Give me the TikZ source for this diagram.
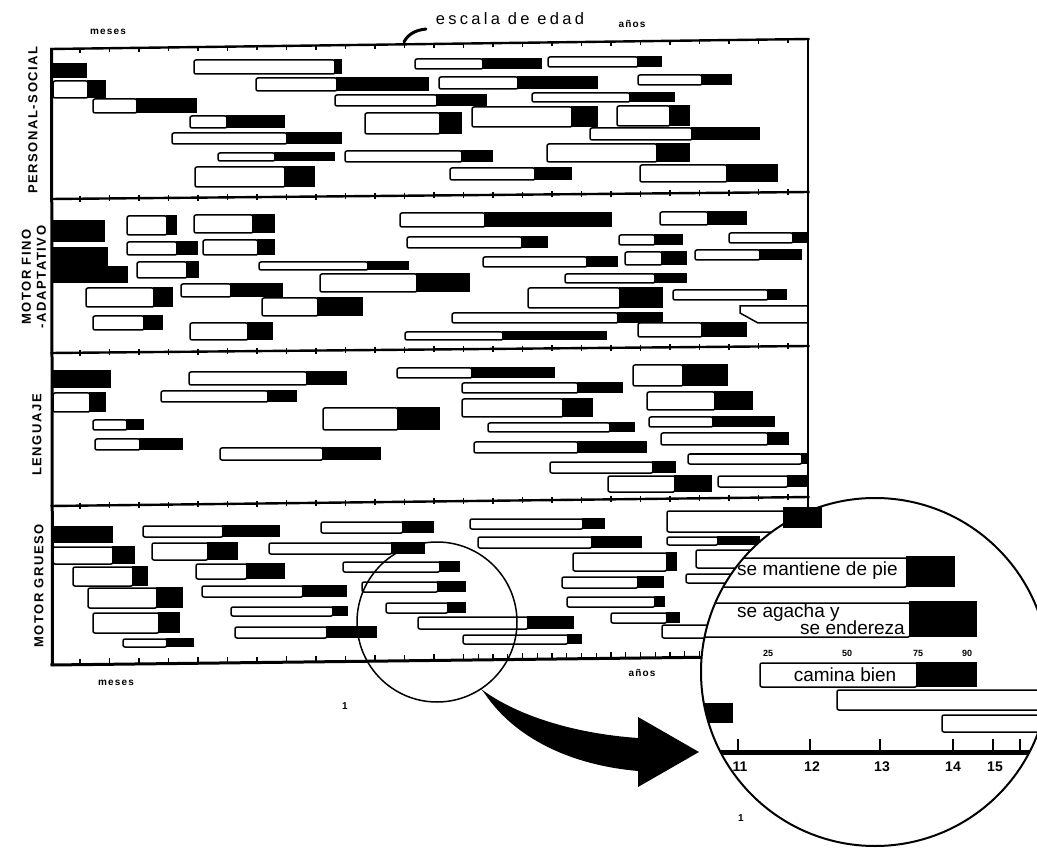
\documentclass[tikz,border=0pt]{standalone}
\usepackage{fontspec}
\setmainfont{Liberation Sans}
\newfontfamily\spaced{Liberation Sans}[LetterSpace=12]
\newfontfamily\wide{Liberation Sans}[LetterSpace=20]
\newcommand\chartline[4]{%
  \draw[frame] (50.5,#1) -- (809.5,#2);
  \foreach \k in {0,...,24}{
    \pgfmathsetmacro\xx{80+29.5*\k}
    \pgfmathsetmacro\yy{#1+(#2-#1)*(\xx-52)/756}
    \draw[tk] (\xx,\yy+#3) -- (\xx,\yy+#4);
  }}
\begin{document}
\begin{tikzpicture}[x=1pt,y=-1pt,
  frame/.style={line width=2.4pt},
  tk/.style={line width=1.2pt},
  wbar/.style={fill=white,draw=black,line width=1.5pt,rounded corners=2pt},
  lbl/.style={inner sep=0pt,font=\spaced\bfseries\fontsize{13}{15}\selectfont},
  sm/.style={inner sep=0pt,font=\spaced\bfseries\fontsize{10}{10}\selectfont},
  tiny/.style={inner sep=0pt,font=\bfseries\fontsize{9}{9}\selectfont},
  circ/.style={inner sep=0pt,font=\fontsize{19}{20}\selectfont},
  num/.style={inner sep=0pt,font=\bfseries\fontsize{14}{14}\selectfont}]
\useasboundingbox (0,0) rectangle (1037,850);

% ---------- frame ----------
\draw[line width=3pt] (51.5,48) -- (52.5,666);
\draw[frame] (808,38) -- (808,660);
\chartline{49}{39}{0}{4}
\chartline{199}{192}{-3}{3}
\chartline{353}{346}{-3}{3}
\chartline{506}{497}{-3}{3}
\draw[line width=3pt] (50.5,665) -- (809.5,656);
\foreach \k in {0,...,13}{
  \pgfmathsetmacro\xx{80+29.5*\k}
  \pgfmathsetmacro\yy{665-9*(\xx-52)/756}
  \draw[tk] (\xx,\yy) -- (\xx,\yy-6);}
\foreach \k in {1,...,23}{
  \pgfmathsetmacro\xx{463.5+14.75*\k}
  \pgfmathsetmacro\yy{665-9*(\xx-52)/756}
  \draw[tk] (\xx,\yy) -- (\xx,\yy-6);}

% ---------- black-only bars ----------
\foreach \a/\b/\u/\v in {52/87/63/78, 52/105/220/242, 52/108/247/283, 108/128/266/283,
  52/111/370/388, 52/113/526/543}{
  \fill (\a,\u) rectangle (\b,\v);}

% ---------- bars: white x1-x2, black x2-x3, y1-y2 ----------
\foreach \a/\b/\c/\u/\v in {
 % personal-social
 53/88/106/81/98, 93/137/197/99/113, 194/335/342/60/74, 256/337/429/78/91,
 415/483/542/59/69, 439/518/598/77/89, 335/437/487/95/106, 190/227/285/116/128,
 172/287/342/133/144, 365/440/462/113/134, 218/275/335/153/161, 345/462/493/151/162,
 195/285/315/167/187, 450/535/572/168/180, 548/638/662/57/67, 638/702/732/75/85,
 532/630/675/93/102, 472/572/598/107/127, 617/670/690/106/126, 590/692/760/128/140,
 547/657/690/144/162, 640/727/778/165/182,
 % motor fino-adaptativo
 127/167/177/216/235, 194/253/275/215/233, 127/177/198/242/255, 203/258/275/240/255,
 137/187/199/262/278, 259/368/409/262/270, 86/154/173/288/307, 181/231/283/284/297,
 320/417/470/274/292, 262/318/363/298/316, 93/144/163/316/330, 190/248/273/323/340,
 400/485/612/213/227, 407/522/548/237/248, 483/587/618/257/267, 565/655/687/274/283,
 528/620/663/288/308, 452/618/663/313/323, 405/503/607/332/340, 660/708/747/212/225,
 619/655/683/235/245, 729/793/808/233/243, 625/662/687/252/265, 695/760/802/250/260,
 673/768/787/290/300, 638/702/747/323/337,
 % lenguaje
 53/90/106/393/412, 93/127/144/420/430, 95/140/183/439/450, 189/307/347/372/385,
 161/268/297/391/402, 220/323/381/448/460, 323/398/440/408/430, 397/472/555/368/378,
 462/578/623/383/393, 462/563/593/399/417, 488/610/635/423/432, 474/578/647/442/453,
 550/653/676/462/473, 608/675/712/476/492, 633/683/728/365/386, 647/715/753/392/410,
 649/713/775/417/427, 661/768/789/433/445, 688/802/808/454/464, 718/788/808/476/487,
 % motor grueso
 53/113/135/547/564, 73/133/148/567/586, 88/157/183/588/608, 93/159/180/613/633,
 123/167/194/639/647, 143/223/280/526/537, 152/208/238/543/560, 196/247/285/564/579,
 202/303/347/586/597, 231/333/348/607/616, 235/327/377/627/638, 321/403/434/522/533,
 269/392/425/543/554, 343/440/460/562/572, 362/438/466/582/592, 386/448/466/603/613,
 418/528/574/617/629, 463/568/582/635/644, 470/583/605/519/529, 478/592/642/537/548,
 573/667/677/553/571, 562/638/664/577/588, 567/655/665/597/607, 611/667/680/613/623,
 662/740/740/625/638, 667/785/808/511/532, 667/718/760/537/545, 696/760/760/550/568,
 686/760/760/574/583}{
  \draw[wbar] (\a,\u) rectangle (\b,\v);
  \fill (\b-0.8,\u-0.8) rectangle (\c,\v+0.3);}
\draw[line width=1.5pt] (808,306) -- (740,306) -- (740,313) -- (758,323) -- (808,323);

% ---------- labels ----------
\node[lbl,rotate=90] (ps) at (33,120) {PERSONAL-SOCIAL};
\node[lbl,rotate=90,align=center] (mf) at (34,277) {MOTOR FINO\\-ADAPTATIVO};
\node[lbl,rotate=90] (le) at (37,435) {LENGUAJE};
\node[lbl,rotate=90] (mg) at (39,586) {MOTOR GRUESO};
\node[sm] (m1) at (108,32) {meses};
\node[sm] (a1) at (632,24) {años};
\node[sm] (m2) at (116,683) {meses};
\node[sm] (a2) at (642,673) {años};
\node[sm] (n1) at (345,706) {1};
\node[sm] (n2) at (741,818) {1};
\node[inner sep=0pt,font=\wide\fontsize{16.5}{18}\selectfont] (esc) at (510,19) {escala de edad};
\draw[line width=3pt,line cap=round] (404,42) .. controls (408,34) and (416,30) .. (426,29);

% ---------- small magnifier ----------
\draw[line width=1.5pt] (437,622) circle[radius=80pt];

% ---------- arrow ----------
\fill (481,689) .. controls (520,718) and (580,734) .. (638,738) -- (638,717) -- (699,752)
  -- (638,787) -- (638,771) .. controls (570,765) and (515,738) .. (485,694) -- cycle;

% ---------- big magnifier ----------
\fill[white] (875,672) circle[radius=174pt];
\begin{scope}
\clip (875,672) circle[radius=174pt];
\draw[wbar] (680,558) rectangle (907,587);
\fill (906,556) rectangle (955,587);
\draw[wbar] (680,603) rectangle (910,637);
\fill (909,601) rectangle (977,637);
\draw[wbar] (760,663) rectangle (917,687);
\fill (916,662) rectangle (977,687);
\draw[wbar] (837,690) rectangle (1060,710);
\draw[wbar] (942,715) rectangle (1060,732);
\fill (680,703) rectangle (733,723);
\draw[line width=5pt] (680,752) -- (1060,752);
\foreach \xx in {738,810,880,953,993,1020}{\draw[line width=1.8pt] (\xx,752) -- (\xx,739);}
\end{scope}
\fill (783,507) rectangle (822,528);
\draw[line width=2pt] (875,672) circle[radius=174pt];

\node[circ,anchor=west] (t1) at (737,571) {se mantiene de pie};
\node[circ,anchor=west] (t2) at (737,613) {se agacha y};
\node[circ,anchor=east] (t3) at (905,628) {se endereza};
\node[circ] (t4) at (845,675) {camina bien};
\foreach \xx/\t in {768/25,847/50,918/75,967/90}{\node[tiny] at (\xx,653) {\t};}
\foreach \xx/\t in {740/11,812/12,882/13,953/14,995/15}{\node[num] at (\xx,767) {\t};}
\end{tikzpicture}
\end{document}
